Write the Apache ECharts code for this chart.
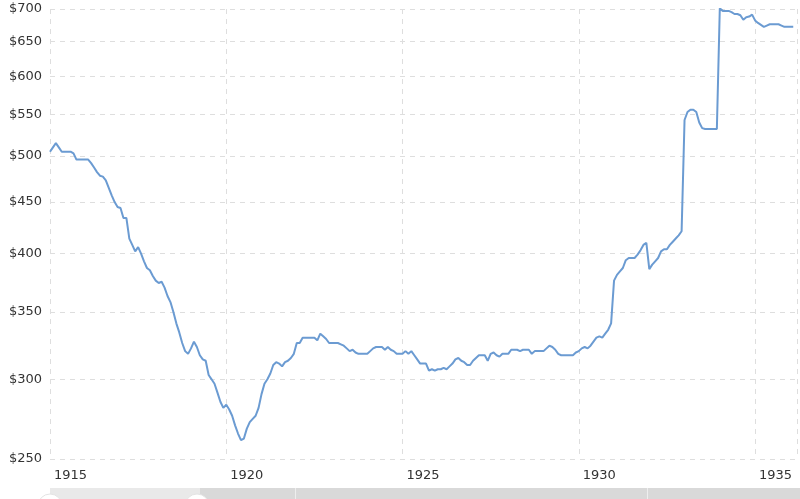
<!DOCTYPE html>
<html>
<head>
<meta charset="utf-8">
<script src="https://cdn.jsdelivr.net/npm/echarts@6/dist/echarts.min.js"></script>
<style>html,body{margin:0;padding:0;background:#fff;}#c{width:800px;height:499px;}</style>
</head>
<body>
<div id="c"></div>
<script>
// Monthly values, Jan 1915 .. Feb 1936
const startYear = 1915;
const values = [
505,510,515,510,505,505,505,505,503,496,496,496,
496,496,492,487,482,478,477,473,465,457,450,445,
444,434,434,414,408,402,406,400,393,387,385,380,
376,374,375,370,363,358,350,341,334,326,320,318,
322,327,323,317,314,313,303,300,297,291,285,281,
283,280,276,270,265,261,262,268,272,274,276,281,
290,297,300,304,310,312,311,309,312,313,315,318,
326,326,330,330,330,330,330,328,333,331,329,326,
326,326,326,325,324,322,320,321,319,318,318,318,
318,320,322,323,323,323,321,323,321,320,318,318,
318,320,318,320,317,314,311,311,311,306,307,306,
307,307,308,307,309,311,314,315,313,312,310,310,
313,315,317,317,317,313,318,319,317,316,318,318,
318,321,321,321,320,321,321,321,318,320,320,320,
320,322,324,323,321,318,317,317,317,317,317,319,
320,322,323,322,324,327,330,331,330,333,336,341,
376,381,384,387,394,396,396,396,399,403,408,410,
386,390,393,396,402,404,404,408,411,414,417,421,
543,553,556,556,553,540,533,532,532,532,532,532,
701,697,697,697,695,692,692,690,683,687,688,691,
682,678,675,672,674,676,676,676,676,674,672,672,
672,672
];
const yTicks = [250,300,350,400,450,500,550,600,650,700];
const xTicks = [1915,1920,1925,1930,1935];

const points = values.map((v, i) => [startYear + i / 12, v]);

const chart = echarts.init(document.getElementById('c'), null, {renderer: 'canvas'});
const font = 'DejaVu Sans';
chart.setOption({
  animation: false,
  backgroundColor: '#ffffff',
  grid: {left: 50, right: 0, top: 9, bottom: 40, containLabel: false},
  xAxis: {
    type: 'value',
    min: 1915,
    max: 1936.19,
    interval: 5,
    axisLine: {show: false},
    axisTick: {show: false},
    splitLine: {show: true, lineStyle: {color: '#dedede', type: [5, 5], width: 1}},
    axisLabel: {
      align: 'left',
      margin: 10,
      padding: [0, 0, 0, 4],
      color: '#333',
      fontFamily: font,
      fontSize: 13,
      formatter: function (v) { return xTicks.indexOf(Math.round(v * 100) / 100) >= 0 ? String(v) : ''; }
    }
  },
  yAxis: {
    type: 'log',
    logBase: 10,
    min: 250,
    max: 700,
    axisLine: {show: false},
    axisTick: {show: false, customValues: yTicks},
    splitLine: {show: true, lineStyle: {color: '#dedede', type: [5, 5], width: 1}},
    axisLabel: {
      customValues: yTicks,
      margin: 8,
      color: '#333',
      fontFamily: font,
      fontSize: 13,
      formatter: function (v) { return '$' + Math.round(v); }
    }
  },
  series: [{
    type: 'line',
    data: points,
    showSymbol: false,
    symbol: 'none',
    lineStyle: {color: '#6b9bd2', width: 2},
    itemStyle: {color: '#6b9bd2'}
  }],
  graphic: [
    {type: 'rect', shape: {x: 50, y: 488, width: 150, height: 12}, style: {fill: '#e9e9e9'}, silent: true},
    {type: 'rect', shape: {x: 200, y: 488, width: 600, height: 12}, style: {fill: '#d9d9d9'}, silent: true},
    {type: 'rect', shape: {x: 295, y: 488, width: 1, height: 12}, style: {fill: '#eeeeee'}, silent: true},
    {type: 'rect', shape: {x: 647, y: 488, width: 1, height: 12}, style: {fill: '#eeeeee'}, silent: true},
    {type: 'circle', shape: {cx: 50, cy: 506, r: 12}, style: {fill: '#ffffff', stroke: '#e4e4e4'}, silent: true},
    {type: 'circle', shape: {cx: 197, cy: 506, r: 12}, style: {fill: '#ffffff', stroke: '#e4e4e4'}, silent: true}
  ]
});
</script>
</body>
</html>
